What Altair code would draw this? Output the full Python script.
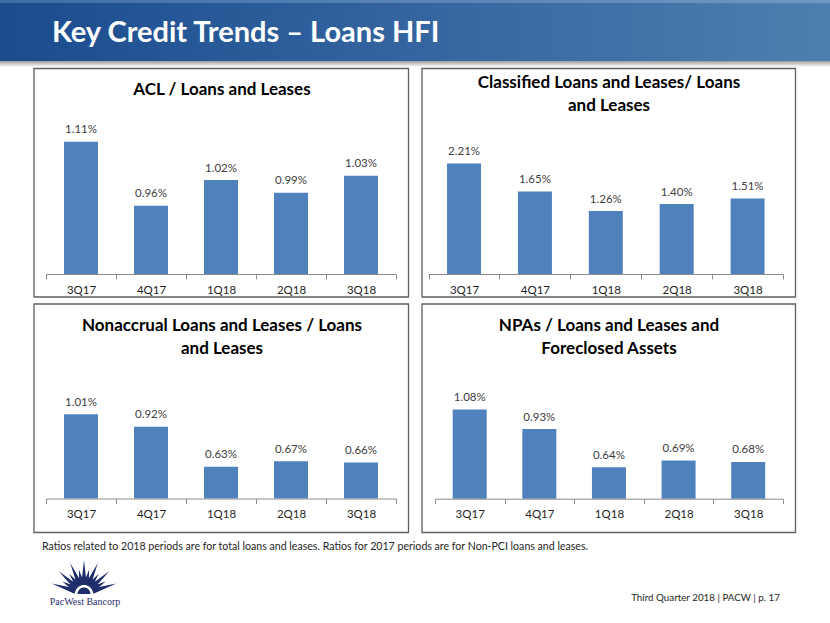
import math
import altair as alt
import pandas as pd

# ---------------- data ----------------
quarters = ["3Q17", "4Q17", "1Q18", "2Q18", "3Q18"]
acl = [1.11, 0.96, 1.02, 0.99, 1.03]
classified = [2.21, 1.65, 1.26, 1.40, 1.51]
nonaccrual = [1.01, 0.92, 0.63, 0.67, 0.66]
npas = [1.08, 0.93, 0.64, 0.69, 0.68]

page_title = "Key Credit Trends \u2013 Loans HFI"
panel_titles = [
    ["ACL / Loans and Leases"],
    ["Classified Loans and Leases/ Loans", "and Leases"],
    ["Nonaccrual Loans and Leases / Loans", "and Leases"],
    ["NPAs / Loans and Leases and", "Foreclosed Assets"],
]
footnote = ("Ratios related to 2018 periods are for total loans and leases. "
            "Ratios for 2017 periods are for Non-PCI loans and leases.")
footer = "Third Quarter 2018 | PACW | p. 17"
logo_text = "PacWest Bancorp"

# ---------------- style ----------------
W, H = 830, 623
FONT = "Lato"
BAR = "#4f81bd"
NAVY = "#1f2d6a"
one = pd.DataFrame({"k": [0]})


def deco_rect(x, x2, y, y2, **kw):
    return alt.Chart(one).mark_rect(**kw).encode(
        x=alt.value(x), x2=alt.value(x2), y=alt.value(y), y2=alt.value(y2))


def deco_text(x, y, text, **kw):
    return alt.Chart(one).mark_text(**kw).encode(
        x=alt.value(x), y=alt.value(y), text=alt.value(text))


def panel(values, xr, dom, baseline, px_per_unit):
    df = pd.DataFrame({"q": quarters, "v": values,
                       "lab": [f"{v:.2f}%" for v in values]})
    top = baseline - (dom[1] - dom[0]) * px_per_unit
    xax = alt.Axis(title=None, orient="bottom", offset=baseline - H, labelAngle=0,
                   labelFont=FONT, labelFontSize=11.5, labelColor="#262626",
                   labelPadding=5, domainColor="#8c8c8c", domainWidth=1,
                   tickColor="#8c8c8c", tickSize=5, tickBand="extent", grid=False,
                   zindex=1)
    x = alt.X("q:N", sort=quarters,
              scale=alt.Scale(type="band", domain=quarters, range=xr,
                              paddingInner=0, paddingOuter=0),
              axis=xax)
    y = alt.Y("v:Q", scale=alt.Scale(domain=dom, range=[baseline, top],
                                     zero=False, nice=False), axis=None)
    bars = alt.Chart(df).mark_bar(size=34, color=BAR).encode(
        x=x, y=y, y2=alt.datum(dom[0]))
    labels = alt.Chart(df).mark_text(font=FONT, fontSize=11.5, color="#404040",
                                     baseline="middle", dy=-11.5).encode(
        x=x, y=y, text="lab:N")
    return alt.layer(bars, labels)


# ---------------- header ----------------
header = deco_rect(0, W, 0, 61, fill=alt.Gradient(
    gradient="linear", x1=0, x2=1, y1=0, y2=0,
    stops=[alt.GradientStop(color="#1a4c8e", offset=0),
           alt.GradientStop(color="#3465a0", offset=0.5),
           alt.GradientStop(color="#4d7fae", offset=1)]))
header_top = deco_rect(0, W, 0, 3, fill=alt.Gradient(
    gradient="linear", x1=0, x2=1, y1=0, y2=0,
    stops=[alt.GradientStop(color="#3f6ea6", offset=0),
           alt.GradientStop(color="#6f98c4", offset=1)]))
shadow = deco_rect(0, W, 61, 67, fill=alt.Gradient(
    gradient="linear", x1=0, x2=0, y1=0, y2=1,
    stops=[alt.GradientStop(color="#9c9c9c", offset=0),
           alt.GradientStop(color="#ffffff", offset=1)]))
title = deco_text(52, 33, page_title, font=FONT, fontSize=29, fontWeight="bold",
                  color="white", align="left", baseline="middle")

# ---------------- panels ----------------
boxes = [(34, 408.5, 68.5, 297), (422, 795.5, 68.5, 297),
         (34, 408.5, 304, 532.5), (422, 795.5, 304, 532.5)]
borders = [deco_rect(a, b, c, d, fill="white", stroke="#5f5f5f", strokeWidth=1.3)
           for a, b, c, d in boxes]

title_pos = [(222, 90), (609, 83), (222, 326), (609, 326)]
ptitles = [deco_text(x, y, t if len(t) > 1 else t[0], font=FONT, fontSize=17,
                     fontWeight="bold", color="black", align="center",
                     baseline="middle", lineHeight=22.5)
           for (x, y), t in zip(title_pos, panel_titles)]

p1 = panel(acl, [46, 396], [0.8, 1.2], 274, 427)
p2 = panel(classified, [428.6, 783], [0, 2.5], 274, 50)
p3 = panel(nonaccrual, [46, 396], [0.4, 1.2], 498.5, 138)
p4 = panel(npas, [434.9, 783], [0.4, 1.2], 498.7, 131.3)

# ---------------- footer ----------------
note = deco_text(42, 547, footnote, font=FONT, fontSize=10.6, color="#262626",
                 align="left", baseline="middle")
foot = deco_text(780, 598, footer, font=FONT, fontSize=9.8, color="#262626",
                 align="right", baseline="middle")

# logo sunburst (decorative path in unit square, scaled by symbol size)
S = 36.0
cx, cy = 0.0, 15.0 / S
parts = []
n_rays = 13
for i in range(n_rays):
    ang = math.radians(162 - i * (144 / (n_rays - 1)))
    R = (34 if i % 2 == 0 else 25) / S
    r0 = 9 / S
    hw = 2.8 / S
    ux, uy = math.cos(ang), -math.sin(ang)
    px, py = -uy, ux
    bx, by = cx + ux * r0, cy + uy * r0
    parts.append(f"M{bx + px * hw:.3f},{by + py * hw:.3f}"
                 f"L{cx + ux * R:.3f},{cy + uy * R:.3f}"
                 f"L{bx - px * hw:.3f},{by - py * hw:.3f}Z")
dome = []
for k in range(13):
    a = math.radians(180 - k * 15)
    dome.append(f"{cx + math.cos(a) * 6.5 / S:.3f},{cy - math.sin(a) * 6.5 / S:.3f}")
parts.append("M" + "L".join(dome) + "Z")
logo_path = "".join(parts)
logo = alt.Chart(one).mark_point(shape=logo_path, filled=True, color=NAVY,
                                 opacity=1, size=(2 * S) ** 2).encode(
    x=alt.value(84), y=alt.value(579))
logo_label = deco_text(85, 602, logo_text, font="Liberation Serif", fontSize=10,
                       color=NAVY, align="center", baseline="middle")

chart = alt.layer(
    header, header_top, shadow, title,
    *borders, *ptitles,
    p1, p2, p3, p4,
    note, foot, logo, logo_label,
).resolve_scale(x="independent", y="independent").resolve_axis(
    x="independent", y="independent"
).properties(
    width=W, height=H, padding=0, autosize=alt.AutoSizeParams(type="none"),
    background="white",
).configure_view(stroke=None)

chart.save("out.html", embed_options={"renderer": "svg", "actions": False})
